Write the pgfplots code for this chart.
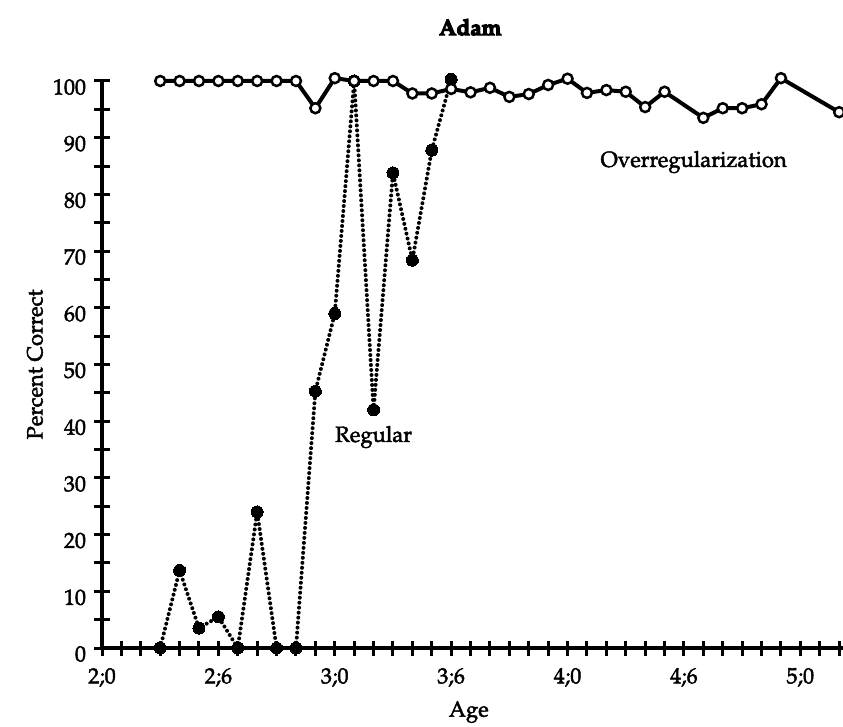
\documentclass[border=0pt]{standalone}
\usepackage[T1]{fontenc}
\usepackage{mathpazo}
\usepackage{pgfplots}
\pgfplotsset{compat=1.18}
\newcommand\fb{\special{pdf:literal direct 2 Tr 0.45 w}}
\newcommand\fbb{\special{pdf:literal direct 2 Tr 1.1 w}}
\newcommand\fnt{\fb\fontsize{22}{26}\selectfont}
\begin{document}
\begin{tikzpicture}[x=1pt,y=1pt]
\useasboundingbox (0,0) rectangle (843,726);
\begin{axis}[
  at={(102pt,78pt)}, anchor=south west,
  scale only axis, width=741pt, height=567pt,
  xmin=24, xmax=62.2, ymin=0, ymax=100,
  clip=false,
  axis x line=bottom, axis y line=left,
  axis line style={line width=4pt, -},
  xtick={24,30,...,60}, xticklabels={2;0,2;6,3;0,3;6,4;0,4;6,5;0},
  minor xtick={25,...,62},
  ytick={0,10,...,100}, minor ytick={5,15,...,95},
  tick align=center, major tick length=15pt, minor tick length=15pt,
  every tick/.style={line width=3pt, black},
  every minor tick/.style={line width=3pt, black},
  tick label style={font=\fnt},
  xticklabel style={anchor=center, yshift=-22pt},
  yticklabel style={anchor=east, xshift=-5pt, yshift=-6pt},
  label style={font=\fnt},
  xlabel={Age},
  xlabel style={at={(axis description cs:0.495,-0.113)}, anchor=center},
  ylabel={Percent Correct},
  ylabel style={at={(axis description cs:-0.0904,0.5)}, anchor=center},
]
\addplot[black, line width=4pt, line cap=round, dash pattern=on 0pt off 5pt,
  mark=*, mark size=6pt, mark options={solid, fill=black, line width=0pt}]
  coordinates {(27,0)(28,13.7)(29,3.5)(30,5.5)(31,0)(32,24)(33,0)(34,0)(35,45.3)(36,59)(37,100)(38,42)(39,83.8)(40,68.4)(41,87.8)(42,100.3)};
\addplot[black, line width=4pt,
  mark=*, mark size=5pt, mark options={solid, fill=white, draw=black, line width=2.5pt}]
  coordinates {(27,100)(28,100)(29,100)(30,100)(31,100)(32,100)(33,100)(34,100)(35,95.2)(36,100.5)(37,100)(38,100)(39,100)(40,97.8)(41,97.8)(42,98.6)(43,98)(44,98.8)(45,97.2)(46,97.7)(47,99.3)(48,100.4)(49,97.9)(50,98.4)(51,98.1)(52,95.4)(53,98.1)(55,93.5)(56,95.2)(57,95.2)(58,95.9)(59,100.5)(62,94.5)};
\node[font=\fnt] at (axis cs:54.5,85.7) {Overregularization};
\node[font=\fnt] at (axis cs:38,37.2) {Regular};
\node[font=\fbb\fontsize{22.5}{27}\selectfont\bfseries] at (axis description cs:0.497,1.095) {Adam};
\end{axis}
\end{tikzpicture}
\end{document}
